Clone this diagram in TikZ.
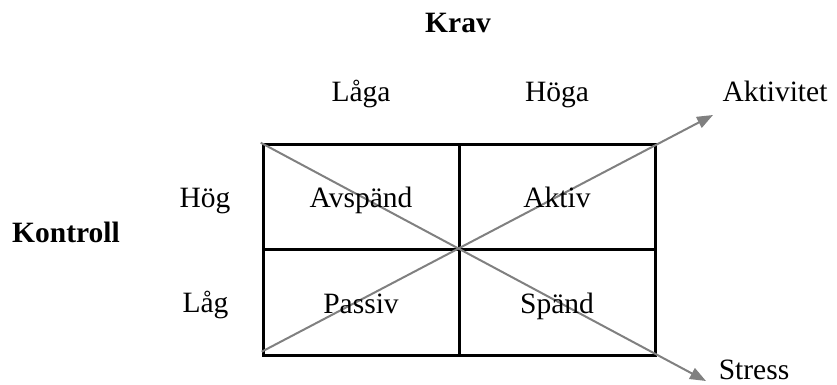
\documentclass[tikz,border=0pt]{standalone}
\usepackage{fontspec}
\setmainfont{Liberation Serif}
\usetikzlibrary{arrows.meta}
\definecolor{diaggray}{RGB}{128,128,128}
\begin{document}
\begin{tikzpicture}[x=1pt,y=-1pt,
  lbl/.style={anchor=base,inner sep=0pt,font=\fontsize{29.5}{34}\selectfont},
  boldlbl/.style={lbl,font=\fontsize{29.5}{34}\selectfont\bfseries},
  gridline/.style={line width=3pt,black},
  diag/.style={line width=2pt,diaggray,-{Triangle[length=16pt,width=12pt]}}]
\useasboundingbox (0,0) rectangle (837,385);
% grid
\coordinate (tl) at (263.5,144);
\coordinate (br) at (655,355.5);
\coordinate (tm) at (459,144);
\coordinate (bm) at (459,355.5);
\coordinate (ml) at (263.5,249.5);
\coordinate (mr) at (655,249.5);
\draw[gridline] (tl) rectangle (br);
\draw[gridline] (tm) -- (bm);
\draw[gridline] (ml) -- (mr);
% diagonals
\coordinate (d1s) at (260.7,142.7);
\coordinate (d1e) at (706,381);
\coordinate (d2s) at (261.7,351.7);
\coordinate (d2e) at (713,115);
\draw[diag] (d1s) -- (d1e);
\draw[diag] (d2s) -- (d2e);
% labels
\node[boldlbl] (krav) at (458,33) {Krav};
\node[lbl] (laga) at (361,102) {Låga};
\node[lbl] (hoga) at (557,102) {Höga};
\node[lbl] (akt) at (775,102) {Aktivitet};
\node[lbl] (hog) at (205,207) {Hög};
\node[lbl] (lag) at (205.5,312) {Låg};
\node[boldlbl] (kontroll) at (66,242) {Kontroll};
\node[lbl] (avsp) at (361,207) {Avspänd};
\node[lbl] (aktiv) at (557,207) {Aktiv};
\node[lbl] (passiv) at (361,313) {Passiv};
\node[lbl] (spand) at (557,313) {Spänd};
\node[lbl] (stress) at (754,379.5) {Stress};
\end{tikzpicture}
\end{document}
